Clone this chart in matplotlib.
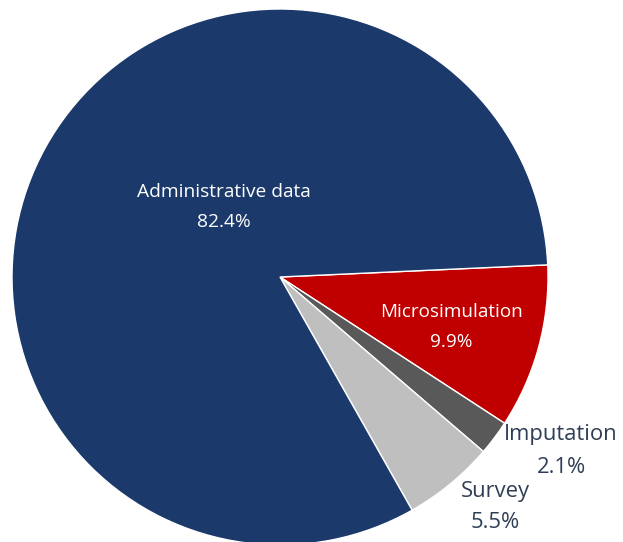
import numpy as np
import matplotlib.pyplot as plt

# data
labels = ['Microsimulation', 'Imputation', 'Survey', 'Administrative data']
shares = [9.9, 2.1, 5.5, 82.4]
colors = ['#c00000', '#595959', '#bfbfbf', '#1b3a6b']

# label positions in pixel coords (x, y from top), text colour, size, spacing
label_pos = [(451, 327), (561, 451), (495, 507), (224, 207)]
label_col = ['white', '#2f3e56', '#2f3e56', 'white']
label_size = [13.6, 15.8, 15.8, 13.8]
label_ls = [1.85, 1.72, 1.62, 1.82]

W, H = 623, 542
fig = plt.figure(figsize=(W / 100, H / 100), dpi=100)
ax = fig.add_axes([0, 0, 1, 1])

# pie: centre ~ (280, 277) px, radius ~ 268 px
ax.pie(shares, colors=colors, startangle=2.6, counterclock=False,
       center=(280, H - 277), radius=268, frame=True,
       wedgeprops=dict(edgecolor='white', linewidth=1.0))

for lab, val, (x, y), c, fs, ls in zip(labels, shares, label_pos, label_col,
                                       label_size, label_ls):
    ax.text(x, H - y, f'{lab}\n{val}%', ha='center', va='center',
            color=c, fontsize=fs, family='Open Sans', linespacing=ls)

ax.set_xlim(0, W)
ax.set_ylim(0, H)
ax.set_aspect('equal')
ax.axis('off')

fig.savefig('out.png', dpi=100)
